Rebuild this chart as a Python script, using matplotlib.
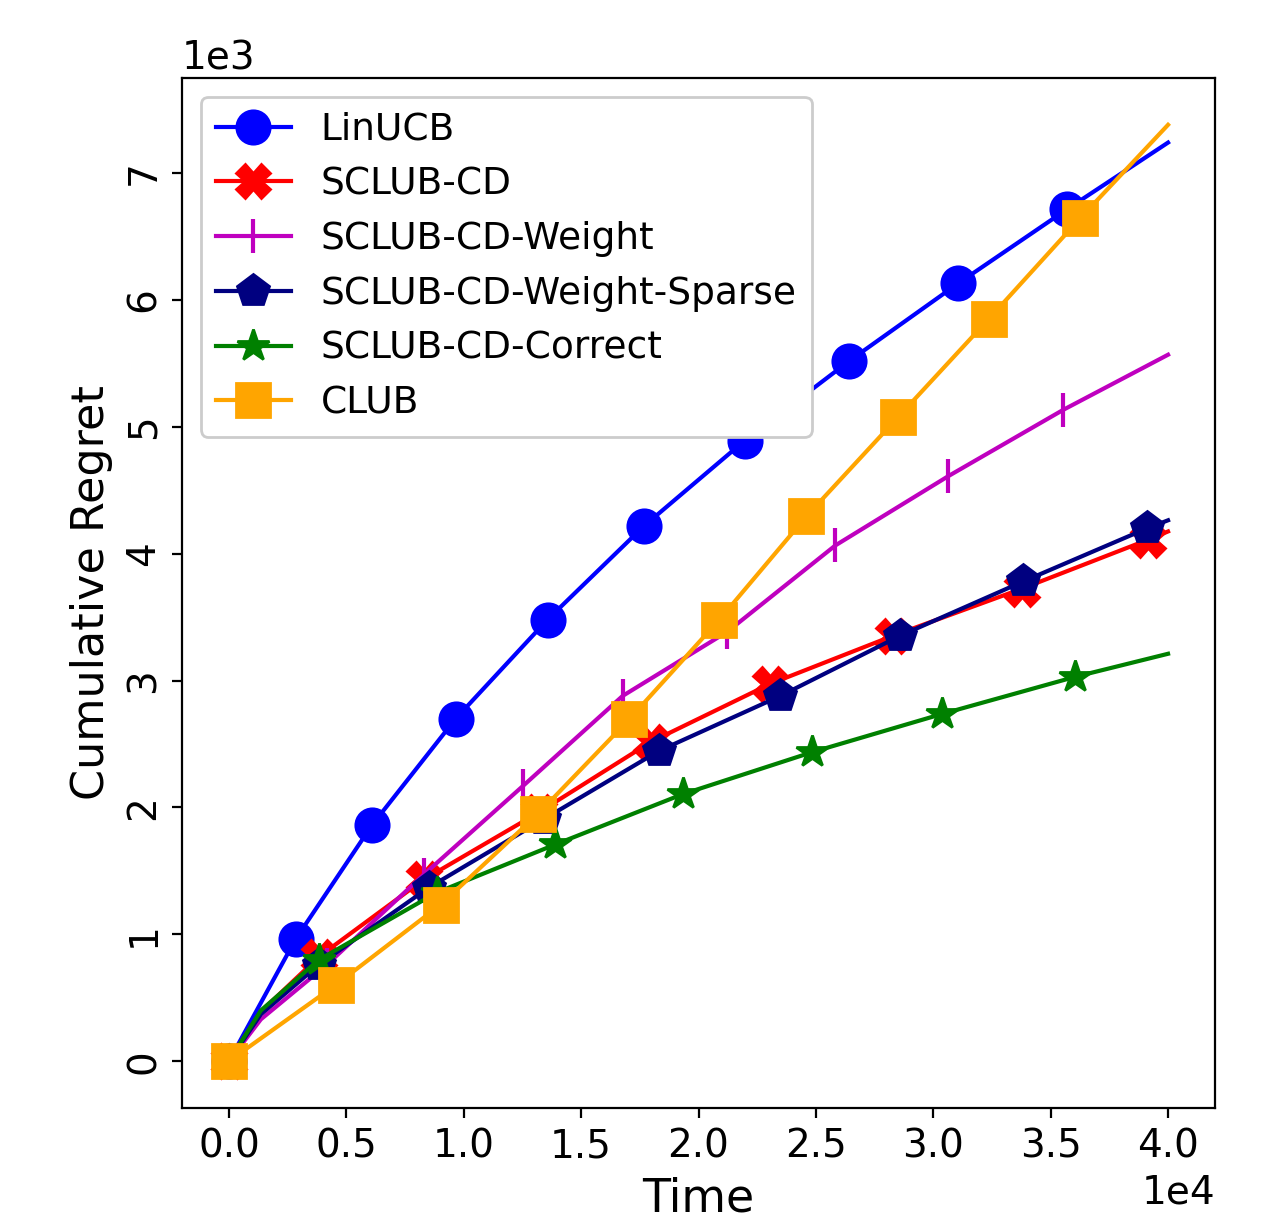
import numpy as np
import matplotlib
matplotlib.use('Agg')
import matplotlib.pyplot as plt

# values (time steps, cumulative regret)
linucb_t = [0, 2850, 6090, 9660, 13570, 17660, 21960, 26430, 31060, 35700, 40000]
linucb_r = [0, 965, 1860, 2700, 3480, 4215, 4890, 5520, 6130, 6715, 7240]

sclub_t = [0, 1360, 3830, 8300, 13190, 17960, 23060, 28300, 33790, 39150, 40000]
sclub_r = [0, 390, 823, 1432, 1960, 2515, 2974, 3354, 3725, 4110, 4175]

weight_t = [0, 1360, 4170, 8300, 12510, 16770, 21230, 25830, 30640, 35530, 40000]
weight_r = [0, 330, 760, 1471, 2167, 2879, 3385, 4065, 4611, 5133, 5568]

sparse_t = [0, 1360, 3830, 8510, 13400, 18300, 23490, 28600, 33830, 39110, 40000]
sparse_r = [0, 370, 760, 1368, 1906, 2444, 2879, 3354, 3781, 4200, 4263]

correct_t = [0, 1360, 3830, 8850, 13900, 19320, 24850, 30380, 36040, 40000]
correct_r = [0, 400, 799, 1329, 1708, 2104, 2436, 2737, 3029, 3211]

club_t = [0, 4550, 9020, 13150, 17060, 20890, 24600, 28510, 32380, 36260, 40000]
club_r = [0, 601, 1234, 1946, 2697, 3480, 4295, 5078, 5853, 6644, 7380]

xtick_vals = np.arange(0, 40001, 5000)

fig = plt.figure(figsize=(6.32, 6.075), dpi=200)
ax = fig.add_axes([182 / 1264, 1 - 1108 / 1215, 1033 / 1264, 1030 / 1215])

ms = 12
ax.plot(linucb_t, linucb_r, color='b', marker='o', ms=ms,
        markevery=list(range(0, 10)), label='LinUCB')
ax.plot(sclub_t, sclub_r, color='r', marker='X', ms=ms,
        markevery=[0] + list(range(2, 10)), label='SCLUB-CD')
ax.plot(weight_t, weight_r, color='m', marker='|', ms=ms, mew=1.5,
        markevery=[0] + list(range(2, 10)), label='SCLUB-CD-Weight')
ax.plot(sparse_t, sparse_r, color='navy', marker='p', ms=ms,
        markevery=[0] + list(range(2, 10)), label='SCLUB-CD-Weight-Sparse')
ax.plot(correct_t, correct_r, color='g', marker='*', ms=ms,
        markevery=[0] + list(range(2, 9)), label='SCLUB-CD-Correct')
ax.plot(club_t, club_r, color='orange', marker='s', ms=ms,
        markevery=list(range(0, 10)), label='CLUB')

ax.set_xticks(xtick_vals)
ax.ticklabel_format(style='sci', scilimits=(0, 0))
ax.tick_params(labelsize=14)
ax.xaxis.get_offset_text().set_fontsize(14)
ax.yaxis.get_offset_text().set_fontsize(14)
plt.yticks(rotation=90, va='center')

ax.set_xlabel('Time', fontsize=16.5)
ax.set_ylabel('Cumulative Regret', fontsize=16)
ax.legend(loc='upper left', fontsize=13.5, framealpha=1)

fig.savefig('out.png', dpi=200)
